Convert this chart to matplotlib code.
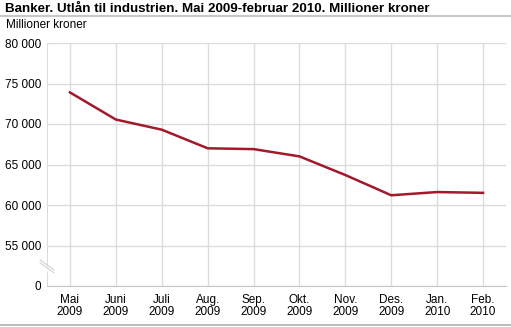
import matplotlib
matplotlib.use("Agg")
import matplotlib.pyplot as plt
import numpy as np

plt.rcParams['font.family'] = ['Liberation Sans', 'DejaVu Sans']

months = ["Mai\n2009", "Juni\n2009", "Juli\n2009", "Aug.\n2009", "Sep.\n2009",
          "Okt.\n2009", "Nov.\n2009", "Des.\n2009", "Jan.\n2010", "Feb.\n2010"]
values = [73900, 70550, 69300, 67000, 66900, 66000, 63700, 61200, 61600, 61500]
yticks = [50000, 55000, 60000, 65000, 70000, 75000, 80000]
ylabels = ["0", "55 000", "60 000", "65 000", "70 000", "75 000", "80 000"]

fig = plt.figure(figsize=(5.11, 3.27), dpi=100)
ax = fig.add_axes([47/511, 1 - 286/327, (506 - 47)/511, (286 - 43)/327])

x = np.arange(len(months))
ax.plot(x, values, color="#a11a2b", lw=1.8, solid_joinstyle="round", zorder=3)

ax.set_xlim(-0.5, len(months) - 0.5)
ax.set_ylim(50000, 80000)
ax.set_xticks(x)
ax.set_xticklabels(months, fontsize=8.5, linespacing=1.0)
ax.set_yticks(yticks)
ax.set_yticklabels(ylabels, fontsize=8.5)
ax.tick_params(length=0, pad=4)
ax.tick_params(axis='x', pad=6)

ax.grid(True, color="#dcdcdc", lw=1)
ax.set_axisbelow(True)
for s in ["top", "right"]:
    ax.spines[s].set_visible(False)
ax.spines["left"].set_color("#dcdcdc")
ax.spines["bottom"].set_color("#c8c8c8")

# axis break marks
for dy in (0, 0.012):
    ax.plot([-0.015, 0.015], [0.095 + dy, 0.055 + dy], transform=ax.transAxes,
            color="#d0d0d0", lw=0.8, clip_on=False, zorder=4)
ax.plot([-0.004, 0.004], [0.08, 0.065], transform=ax.transAxes,
        color="white", lw=2.5, clip_on=False, zorder=3)

fig.text(5/511, 1 - 9/327, "Banker. Utlån til industrien. Mai 2009-februar 2010. Millioner kroner",
         fontsize=9.6, fontweight="bold", va="center", ha="left")
fig.add_artist(plt.Line2D([0, 1], [1 - 16/327, 1 - 16/327], color="#c8c8c8", lw=1.5))
fig.text(6/511, 1 - 25/327, "Millioner kroner", fontsize=8.5, va="center", ha="left")
fig.add_artist(plt.Line2D([0, 1], [1 - 325/327, 1 - 325/327], color="#b0b0b0", lw=1.2))

fig.savefig("out.png", dpi=100)
